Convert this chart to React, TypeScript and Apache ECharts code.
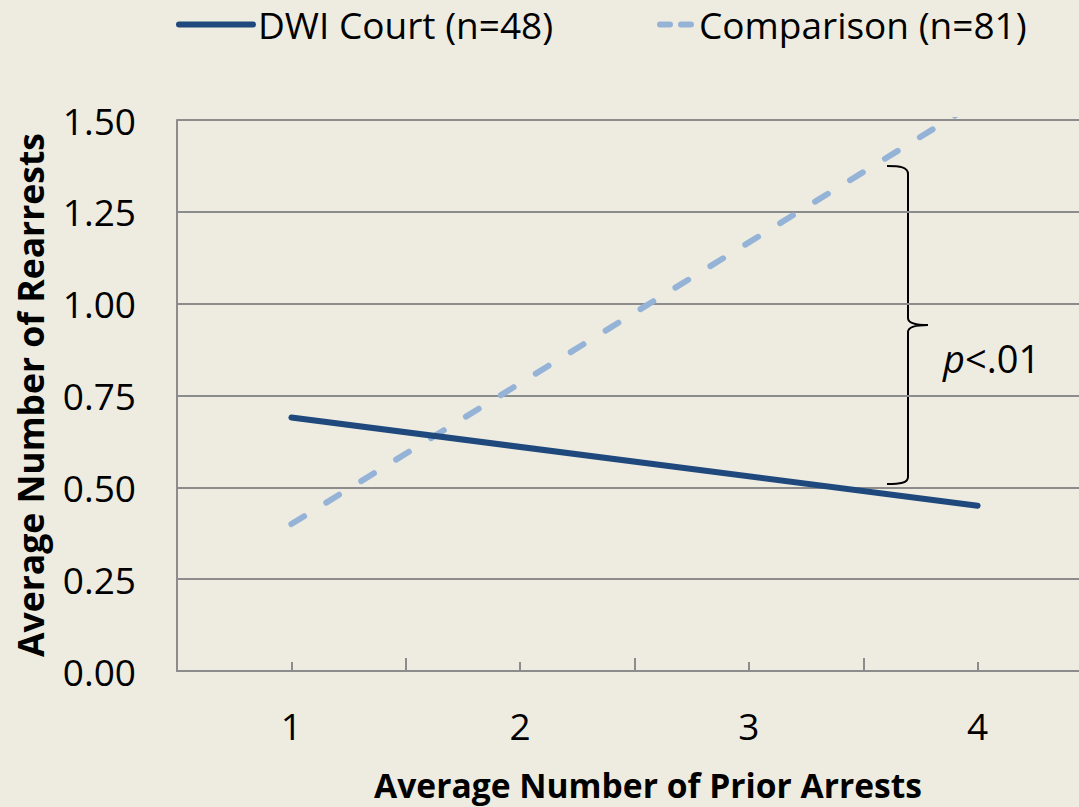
import React, { useEffect, useRef } from "react";
import * as echarts from "echarts";

const seriesNames = ["DWI Court (n=48)", "Comparison (n=81)"];
const priorArrests = [1, 4];
const dwiValues = [0.69, 0.45];
const comparisonValues = [0.40, 1.55];
const yTicks = [0, 0.25, 0.5, 0.75, 1.0, 1.25, 1.5];
const xTickLabels = ["1", "2", "3", "4"];
const xTitle = "Average Number of Prior Arrests";
const yTitle = "Average Number of Rearrests";
const annotation = "<.01";

const FONT = "'Open Sans', 'Liberation Sans', sans-serif";
const BG = "#EEECE1";
const GRID = "#8C8C8C";
const DARK = "#1F497D";
const LIGHT = "#95B3D7";

const braceD =
  "M 887 166 C 900 166 908 167 908 174 L 908 318 C 908 323 915 325 928 325 C 915 325 908 327 908 332 L 908 477 C 908 483 900 484 887 484";

export default function App() {
  const ref = useRef<HTMLDivElement>(null);
  useEffect(() => {
    document.body.style.margin = "0";
    if (!ref.current) return;
    try {
      echarts.graphic.registerShape("brace", echarts.graphic.extendPath(braceD, {}));
    } catch (e) {}
    const chart = echarts.init(ref.current, undefined, { renderer: "svg" });
    chart.setOption({
      animation: false,
      backgroundColor: BG,
      textStyle: { fontFamily: FONT },
      grid: {
        left: 177,
        top: 120,
        bottom: 136,
        width: 915,
        containLabel: false,
        outerBoundsMode: "none",
      },
      legend: [
        {
          data: [seriesNames[0]],
          left: 176,
          top: 6,
          padding: 0,
          itemWidth: 74,
          itemHeight: 40,
          itemGap: 0,
          itemStyle: { opacity: 0 },
          textStyle: { fontSize: 37, color: "#000", fontFamily: FONT },
          lineStyle: { width: 6, cap: "round" },
        },
        {
          data: [seriesNames[1]],
          left: 657,
          top: 6,
          padding: 0,
          itemWidth: 34,
          itemHeight: 40,
          itemGap: 0,
          itemStyle: { opacity: 0 },
          textStyle: { fontSize: 37, color: "#000", fontFamily: FONT },
          lineStyle: { width: 6, cap: "round", type: [10, 11] },
        },
      ],
      xAxis: [
        {
          type: "value",
          position: "bottom",
          min: 0.5,
          max: 4.5,
          interval: 0.5,
          axisLine: { show: true, lineStyle: { color: GRID, width: 2 } },
          axisTick: { show: true, inside: true, length: 9, lineStyle: { color: GRID, width: 2 } },
          splitLine: { show: false },
          axisLabel: {
            margin: 36,
            fontSize: 37,
            color: "#000",
            fontFamily: FONT,
            formatter: (v: number) => {
              const i = xTickLabels.indexOf(String(v));
              return i >= 0 ? xTickLabels[i] : "";
            },
          },
        },
        {
          type: "value",
          position: "bottom",
          min: 0.5,
          max: 4.5,
          interval: 1,
          axisLine: { show: false },
          axisTick: { show: true, inside: true, length: 13, lineStyle: { color: GRID, width: 2 } },
          splitLine: { show: false },
          axisLabel: { show: false },
        },
      ],
      yAxis: {
        type: "value",
        min: yTicks[0],
        max: yTicks[yTicks.length - 1],
        interval: 0.25,
        axisLine: { show: true, lineStyle: { color: GRID, width: 2 } },
        axisTick: { show: false },
        splitLine: { show: true, lineStyle: { color: GRID, width: 2 } },
        axisLabel: {
          margin: 41,
          fontSize: 37,
          color: "#000",
          fontFamily: FONT,
          formatter: (v: number) => v.toFixed(2),
        },
      },
      series: [
        {
          name: seriesNames[0],
          type: "line",
          data: priorArrests.map((x, i) => [x, dwiValues[i]]),
          symbol: "none",
          color: DARK,
          lineStyle: { color: DARK, width: 6, cap: "round" },
          clip: true,
          z: 3,
        },
        {
          name: seriesNames[1],
          type: "line",
          data: priorArrests.map((x, i) => [x, comparisonValues[i]]),
          symbol: "none",
          color: LIGHT,
          lineStyle: { color: LIGHT, width: 6, cap: "round", type: [15, 26] },
          clip: true,
          z: 2,
        },
      ],
      graphic: [
        {
          type: "brace",
          x: 0,
          y: 0,
          silent: true,
          style: { stroke: "#000", lineWidth: 2, fill: "none" },
        },
        {
          type: "text",
          x: 943,
          y: 358,
          style: {
            text: "{i|p}" + annotation,
            fontSize: 38,
            fontFamily: FONT,
            fill: "#000",
            verticalAlign: "middle",
            rich: { i: { fontStyle: "italic", fontSize: 38, fontFamily: FONT } },
          },
        },
        {
          type: "text",
          x: 648,
          y: 785,
          style: {
            text: xTitle,
            fontSize: 33.6,
            fontWeight: "bold",
            fontFamily: FONT,
            fill: "#000",
            align: "center",
            verticalAlign: "middle",
          },
        },
        {
          type: "text",
          x: 30,
          y: 395,
          rotation: Math.PI / 2,
          style: {
            text: yTitle,
            fontSize: 35.5,
            fontWeight: "bold",
            fontFamily: FONT,
            fill: "#000",
            align: "center",
            verticalAlign: "middle",
          },
        },
      ],
    });
    return () => chart.dispose();
  }, []);
  return <div ref={ref} style={{ width: 1079, height: 807 }} />;
}
